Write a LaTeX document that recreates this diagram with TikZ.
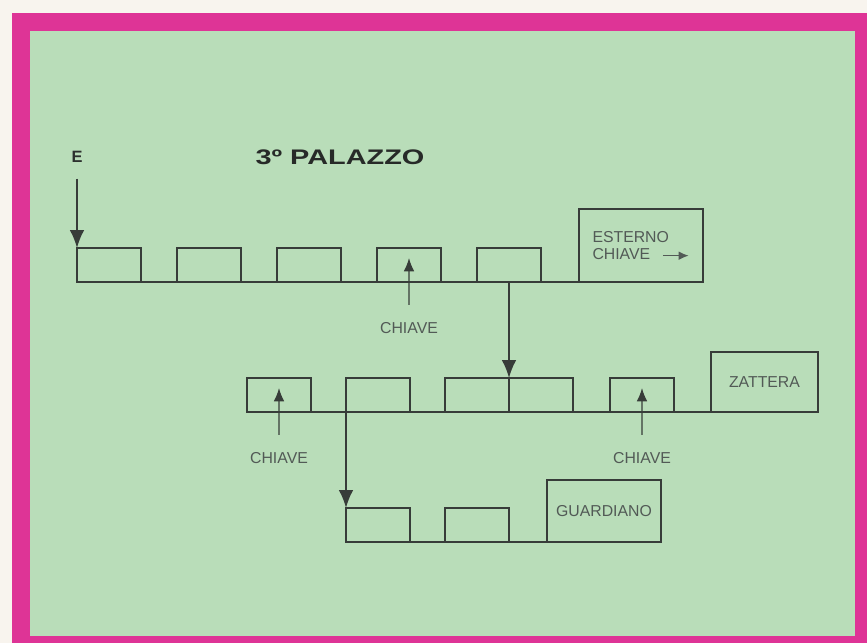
\documentclass[tikz,border=0pt]{standalone}
\usepackage{fontspec}
\setmainfont{Liberation Sans}
\usetikzlibrary{arrows.meta}

\definecolor{pagebg}{RGB}{248,244,238}
\definecolor{framepink}{RGB}{222,52,150}
\definecolor{board}{RGB}{185,221,185}
\definecolor{ink}{RGB}{55,60,57}
\definecolor{printgray}{RGB}{82,90,86}

\begin{document}
\begin{tikzpicture}[x=0.3mm, y=-0.3mm, line width=1.5pt,
  room/.style={rectangle, draw=ink, inner sep=0pt, outer sep=0pt, anchor=south west,
    minimum width=19.2mm, minimum height=10.2mm},
  bigroom/.style={room, align=left, text=printgray, font=\fontsize{13.5}{15}\selectfont},
  lbl/.style={inner sep=0pt, text=printgray, font=\fontsize{13.5}{15}\selectfont},
  pathline/.style={draw=ink},
  arr/.style={draw=ink, -{Latex[length=5.4mm, width=4.4mm]}},
  keyarr/.style={draw=ink, line width=1.2pt, -{Latex[length=4mm, width=3.2mm]}}]

% Background, frame and board
\fill[pagebg] (0,0) rectangle (867,643);
\fill[framepink] (12,13) rectangle (867,643);
\fill[board] (30,31) rectangle (855,636);

% Titles
\node[inner sep=0pt, text=ink!80!black, font=\fontsize{14}{16}\selectfont\bfseries] (E) at (77,157) {E};
\node[inner sep=0pt, text=ink!70!black, font=\fontsize{18}{20}\selectfont\bfseries] (title) at (340,157)
  {\scalebox{1.37}[1]{3º PALAZZO}};

% First floor
\node[room] (r1a) at (77,282) {};
\node[room] (r1b) at (177,282) {};
\node[room] (r1c) at (277,282) {};
\node[room] (r1d) at (377,282) {};
\node[room] (r1e) at (477,282) {};
\node[bigroom, minimum width=37.2mm, minimum height=21.9mm] (est) at (579,282)
  {ESTERNO\\CHIAVE\hspace{3.6mm}\tikz[baseline]{\draw[draw=printgray, line width=1.3pt,
    -{Latex[length=3mm, width=2.6mm]}] (0pt,3.4pt) -- (22pt,3.4pt);}};

% Second floor
\node[room] (r2a) at (247,412) {};
\node[room] (r2b) at (346,412) {};
\node[room, minimum width=38.4mm] (r2c) at (445,412) {};
\node[room] (r2d) at (610,412) {};
\node[bigroom, minimum width=32.1mm, minimum height=18mm] (zat) at (711,412) {ZATTERA};

% Third floor
\node[room] (r3a) at (346,542) {};
\node[room] (r3b) at (445,542) {};
\node[bigroom, minimum width=34.2mm, minimum height=18.6mm] (grd) at (547,542) {GUARDIANO};

% Keys
\node[lbl] (k1) at (409,328) {CHIAVE};
\node[lbl] (k2) at (279,458) {CHIAVE};
\node[lbl] (k3) at (642,458) {CHIAVE};

% Corridors
\draw[pathline] (r1a.south west) -- (est.south east);
\draw[pathline] (r2a.south west) -- (zat.south east);
\draw[pathline] (r3a.south west) -- (grd.south east);
\draw[pathline] (r2c.north) -- (r2c.south);

% Arrows
\draw[arr, shorten <=4.5mm] (E.south) -- (r1a.north west);
\draw[arr] (r1e.south) -- (r2c.north);
\draw[arr] (r2b.south west) -- (r3a.north west);
\draw[keyarr, shorten <=5mm] (k1.north) -- ([yshift=-3mm]r1d.north);
\draw[keyarr, shorten <=5mm] (k2.north) -- ([yshift=-3mm]r2a.north);
\draw[keyarr, shorten <=5mm] (k3.north) -- ([yshift=-3mm]r2d.north);
\end{tikzpicture}
\end{document}
